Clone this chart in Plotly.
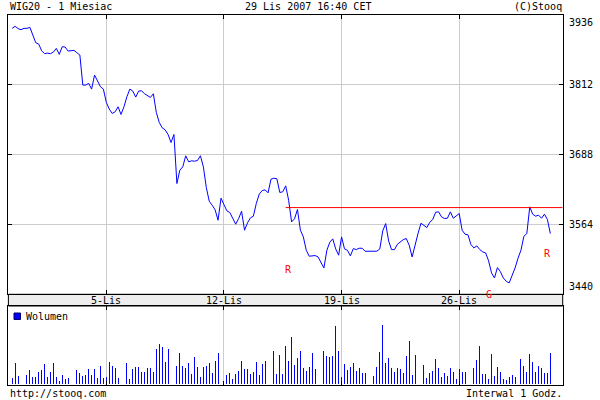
import plotly.graph_objects as go

# ---------------- data ----------------
trading_days = ["2007-10-29", "2007-10-30", "2007-10-31", "2007-11-02",
                "2007-11-05", "2007-11-06", "2007-11-07", "2007-11-08", "2007-11-09",
                "2007-11-12", "2007-11-13", "2007-11-14", "2007-11-15", "2007-11-16",
                "2007-11-19", "2007-11-20", "2007-11-21", "2007-11-22", "2007-11-23",
                "2007-11-26", "2007-11-27", "2007-11-28", "2007-11-29"]
session_hours = ["09:00", "10:00", "11:00", "12:00", "13:00", "14:00", "15:00", "16:00"]
timestamps = [f"{d} {h}" for d in trading_days for h in session_hours]

close = [
    3912.3, 3915.9, 3911.7, 3909.9, 3912.3, 3912.3, 3914.1, 3900.4,
    3886.8, 3884.4, 3872.6, 3867.3, 3868.4, 3867.3, 3870.2, 3876.7,
    3866.1, 3879.7, 3879.1, 3872.0, 3872.0, 3873.2, 3869.0, 3864.9,
    3811.6, 3811.6, 3814.5, 3804.4, 3829.3, 3817.5, 3808.6, 3804.4,
    3780.7, 3768.9, 3761.2, 3764.1, 3773.0, 3759.4, 3773.0, 3790.8,
    3804.4, 3800.9, 3790.2, 3800.9, 3801.5, 3796.1, 3792.6, 3789.6,
    3796.1, 3763.0, 3745.2, 3735.7, 3732.1, 3723.8, 3709.6, 3723.8,
    3636.7, 3660.4, 3666.4, 3685.9, 3675.3, 3677.0, 3676.4, 3677.6,
    3686.0, 3666.4, 3629.7, 3605.3, 3598.2, 3590.0, 3571.6, 3610.7,
    3599.4, 3588.2, 3585.2, 3575.7, 3564.5, 3574.5, 3587.6, 3553.8,
    3566.8, 3575.7, 3578.7, 3601.2, 3617.8, 3624.3, 3625.5, 3620.2,
    3644.5, 3646.2, 3645.1, 3620.8, 3622.0, 3632.6, 3607.1, 3568.6,
    3574.0, 3590.6, 3553.8, 3542.0, 3518.2, 3507.6, 3507.6, 3508.8,
    3506.4, 3496.9, 3486.8, 3518.2, 3532.5, 3538.4, 3520.6, 3509.4,
    3542.0, 3520.6, 3518.2, 3508.2, 3521.2, 3519.4, 3521.8, 3521.8,
    3516.5, 3516.5, 3516.5, 3516.5, 3516.5, 3520.6, 3552.6, 3565.6,
    3534.8, 3519.4, 3519.4, 3528.9, 3533.6, 3537.2, 3539.0, 3527.1,
    3506.4, 3528.3, 3547.9, 3566.2, 3562.1, 3558.5, 3568.0, 3572.8,
    3585.8, 3586.4, 3577.5, 3574.5, 3575.1, 3586.4, 3575.1, 3579.9,
    3583.4, 3553.8, 3546.7, 3545.5, 3528.3, 3522.4, 3526.0, 3519.4,
    3515.3, 3513.5, 3499.3, 3477.9, 3469.1, 3487.4, 3480.3, 3469.1,
    3463.1, 3460.2, 3472.0, 3486.8, 3504.0, 3518.2, 3543.1, 3547.9,
    3595.3, 3582.2, 3578.7, 3580.5, 3575.1, 3582.2, 3572.8, 3547.9,
]

volume = [
    6, 21, 8, 5, 7, 9, 14, 7, 7, 12, 14, 20, 7, 12, 21, 7,
    3, 9, 5, 6, 3, 5, 14, 11, 8, 9, 15, 9, 15, 6, 18, 6,
    7, 22, 18, 16, 6, 10, 20, 21, 5, 15, 17, 17, 12, 12, 16, 16,
    12, 35, 40, 37, 22, 35, 30, 19, 18, 31, 18, 16, 21, 10, 27, 17,
    7, 17, 18, 21, 11, 23, 31, 28,
    14, 9, 11, 5, 10, 13, 23, 15, 15, 10, 12, 22, 9, 20, 23, 17,
    48, 33, 10, 29, 10, 38, 23, 47, 19, 26, 33, 16, 13, 17, 31, 15,
    7, 18, 33, 28, 27, 28, 58, 33,
    7, 20, 14, 17, 21, 13, 16, 11, 11, 24, 7, 8,
    17, 32, 59, 21, 26, 16, 12, 16, 15, 11, 28, 43, 9, 29, 45, 36,
    19, 6, 11, 13, 25, 16, 7, 11, 8, 16, 12, 5,
    15, 12, 12, 12, 22, 16, 24, 38, 10, 10, 5, 30, 8, 17, 12, 5,
    4, 7, 9, 7, 55, 25, 18, 12, 30, 22, 12, 18, 16, 11, 11, 31,
]

week_ticks = ["2007-11-05 09:00", "2007-11-12 09:00", "2007-11-19 09:00", "2007-11-26 09:00"]
week_labels = ["5-Lis", "12-Lis", "19-Lis", "26-Lis"]
price_ticks = [3440, 3564, 3688, 3812, 3936]
price_labels = ["3440", "3564", "3688", "3812", "3936"]

resistance_level = 3594
resistance_start = "2007-11-14 14:00"

signal_times = ["2007-11-14 15:00", "2007-11-27 11:00", "2007-11-29 15:00"]
signal_prices = [3484, 3440, 3512]
signal_labels = ["R", "G", "R"]

# ---------------- layout helpers ----------------
W, H = 600, 400
X0, X1 = 8.4, 562.7          # plot left/right (px)
MAIN_T, MAIN_B = 15, 294.3   # main panel top/bottom (px)
VOL_T, VOL_B = 306, 385.3    # volume panel top/bottom (px)


def px(x):
    return x / W


def py(y):
    return 1 - y / H


FONT = "DejaVu Sans Mono"
BLUE = "#0000ff"
GRID = "#cccccc"

fig = go.Figure()

fig.add_trace(go.Scatter(
    x=timestamps, y=close, mode="lines",
    line=dict(color=BLUE, width=1), xaxis="x", yaxis="y",
    showlegend=False, hoverinfo="skip",
))

fig.add_trace(go.Bar(
    x=timestamps, y=volume, width=0.3,
    marker=dict(color=BLUE, line=dict(width=0)),
    xaxis="x2", yaxis="y2", showlegend=False, hoverinfo="skip",
))

x_range = [-1.3, 187.2]

axis_common = dict(showline=True, linecolor="black", linewidth=1,
                   mirror="ticks", zeroline=False)

fig.update_layout(
    width=W, height=H,
    margin=dict(l=0, r=0, t=0, b=0),
    paper_bgcolor="white", plot_bgcolor="white",
    font=dict(family=FONT, size=10, color="black"),
    bargap=0,
    xaxis=dict(
        domain=[px(X0), px(X1)], anchor="y", type="category",
        categoryorder="array", categoryarray=timestamps,
        range=x_range, tickvals=week_ticks, ticktext=week_labels,
        showticklabels=False, ticks="inside", ticklen=4, tickcolor="black",
        showgrid=True, gridcolor=GRID, gridwidth=1, **axis_common,
    ),
    yaxis=dict(
        domain=[py(MAIN_B), py(MAIN_T)], anchor="x", side="right",
        range=[price_ticks[0], price_ticks[-1]], tickvals=price_ticks,
        showticklabels=False, ticks="inside", ticklen=4, tickcolor="black",
        showgrid=True, gridcolor=GRID, gridwidth=1, **axis_common,
    ),
    xaxis2=dict(
        domain=[px(X0), px(X1)], anchor="y2", type="category",
        categoryorder="array", categoryarray=timestamps,
        range=x_range, tickvals=week_ticks, showticklabels=False,
        ticks="inside", ticklen=4, tickcolor="black",
        showgrid=True, gridcolor=GRID, gridwidth=1, **axis_common,
    ),
    yaxis2=dict(
        domain=[py(VOL_B), py(VOL_T)], anchor="x2",
        range=[-1, 78.3], showticklabels=False, ticks="",
        showgrid=False, **axis_common,
    ),
)

shapes = []
# date band between panels
shapes.append(dict(type="rect", xref="paper", yref="paper",
                   x0=px(X0), x1=px(X1), y0=py(VOL_T), y1=py(MAIN_B),
                   fillcolor="#eeeeee", line=dict(color="black", width=1),
                   layer="below"))
# resistance line
shapes.append(dict(type="line", xref="x", yref="y",
                   x0=resistance_start, x1=x_range[1],
                   y0=resistance_level, y1=resistance_level,
                   line=dict(color="#ff0000", width=1)))
# volume legend square
shapes.append(dict(type="rect", xref="paper", yref="paper",
                   x0=px(14), x1=px(20.5), y0=py(319.5), y1=py(313),
                   fillcolor=BLUE, line=dict(color="#000066", width=1)))
fig.update_layout(shapes=shapes)

ann = []
# header
ann.append(dict(text="WIG20 - 1 Miesiac", xref="paper", yref="paper",
                x=px(8), y=py(7), xanchor="left", yanchor="middle", showarrow=False))
ann.append(dict(text="29 Lis 2007 16:40 CET", xref="paper", yref="paper",
                x=px(308), y=py(7), xanchor="center", yanchor="middle", showarrow=False))
ann.append(dict(text="(C)Stooq", xref="paper", yref="paper",
                x=px(563.5), y=py(7), xanchor="right", yanchor="middle", showarrow=False))
# footer
ann.append(dict(text="http://stooq.com", xref="paper", yref="paper",
                x=px(8), y=py(393.5), xanchor="left", yanchor="middle", showarrow=False))
ann.append(dict(text="Interwal 1 Godz.", xref="paper", yref="paper",
                x=px(563.5), y=py(393.5), xanchor="right", yanchor="middle", showarrow=False))
# price labels on the right
for v, lab in zip(price_ticks, price_labels):
    shift = 0
    if v == price_ticks[-1]:
        shift = -8
    elif v == price_ticks[0]:
        shift = 7.5
    ann.append(dict(text=lab, xref="paper", yref="y", x=px(567), y=v,
                    xanchor="left", yanchor="middle", yshift=shift, showarrow=False))
# week labels in the date band
for t, lab in zip(week_ticks, week_labels):
    ann.append(dict(text=lab, xref="x", yref="paper", x=t, y=py(300),
                    xanchor="center", yanchor="middle", showarrow=False))
# volume legend text
ann.append(dict(text="Wolumen", xref="paper", yref="paper", x=px(24), y=py(316),
                xanchor="left", yanchor="middle", showarrow=False))
# signal markers
for t, p, lab in zip(signal_times, signal_prices, signal_labels):
    ann.append(dict(text=lab, xref="x", yref="y", x=t, y=p, xanchor="center",
                    yanchor="middle", showarrow=False, font=dict(color="red", size=10)))
fig.update_layout(annotations=ann)

fig.write_html(
    "out.html",
    config={"displayModeBar": False, "staticPlot": True},
    post_script="document.body.style.margin='0px';document.body.style.overflow='hidden';",
)
